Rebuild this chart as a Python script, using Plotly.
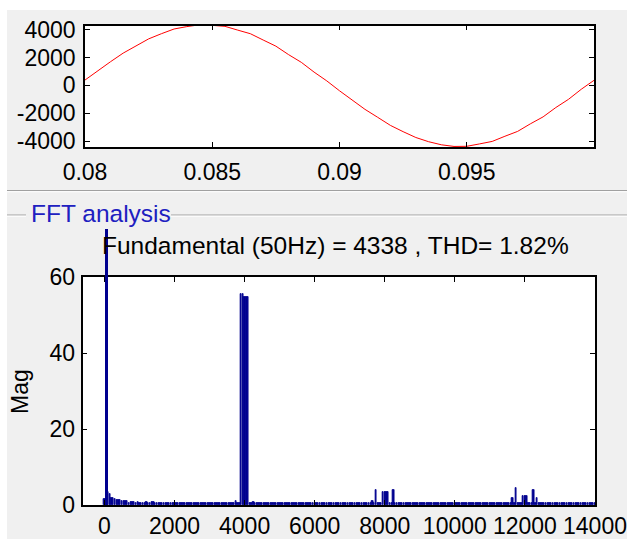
import plotly.graph_objects as go

# ---------------- data ----------------
time_s = [0.0800, 0.0805, 0.0810, 0.0815, 0.0820, 0.0825, 0.0830, 0.0835, 0.0840, 0.0845,
          0.0850, 0.0855, 0.0860, 0.0865, 0.0870, 0.0875, 0.0880, 0.0885, 0.0890, 0.0895,
          0.0900, 0.0905, 0.0910, 0.0915, 0.0920, 0.0925, 0.0930, 0.0935, 0.0940, 0.0945,
          0.0950, 0.0955, 0.0960, 0.0965, 0.0970, 0.0975, 0.0980, 0.0985, 0.0990, 0.0995,
          0.1000]
voltage = [380, 1060, 1690, 2310, 2840, 3330, 3700, 4040, 4210, 4340,
           4300, 4230, 3960, 3700, 3250, 2810, 2200, 1650, 950, 320,
           -390, -1040, -1720, -2290, -2870, -3320, -3740, -4040, -4260, -4380,
           -4370, -4200, -4020, -3650, -3300, -2760, -2260, -1590, -1000, -280,
           360]

time_ticks = [0.08, 0.085, 0.09, 0.095]
time_tick_labels = ["0.08", "0.085", "0.09", "0.095"]
volt_ticks = [-4000, -2000, 0, 2000, 4000]
volt_tick_labels = ["-4000", "-2000", "0", "2000", "4000"]

fund_freq = [50]
fund_mag = [4338]

harm_freq = [0, 100, 150, 200, 250, 300, 350, 400, 450, 500, 550, 600, 650, 700, 750,
             800, 850, 900, 950, 1000, 1050, 1100, 1150, 1200, 1250, 1300, 1350, 1400,
             3750, 3900, 3950, 4000, 4050, 4100, 4250,
             7650, 7750, 7950, 8000, 8050, 8100, 8250,
             11650, 11750, 11950, 12000, 12050, 12250, 12350]
harm_mag = [1.5, 3.5, 3.0, 1.9, 1.9, 1.5, 1.3, 1.3, 1.2, 1.0, 1.0, 1.0, 1.0, 0.6, 0.9,
            0.9, 0.9, 0.6, 0.9, 0.5, 0.5, 0.5, 0.5, 0.9, 0.5, 0.5, 0.9, 0.9,
            1.1, 55.6, 55.6, 54.8, 54.8, 54.8, 0.9,
            1.0, 3.9, 3.3, 3.3, 3.3, 3.3, 3.9,
            1.9, 4.4, 2.4, 2.4, 2.4, 3.9, 1.9]
noise_floor = 0.4          # residual level of all other 50 Hz bins
bin_step = 50
max_freq = 14000

freq_ticks = [0, 2000, 4000, 6000, 8000, 10000, 12000, 14000]
freq_tick_labels = ["0", "2000", "4000", "6000", "8000", "10000", "12000", "14000"]
mag_ticks = [0, 20, 40, 60]

title_text = "Fundamental (50Hz) = 4338 , THD= 1.82%"

# ---------------- build spectrum ----------------
spec = {f: noise_floor for f in range(0, max_freq + 1, bin_step) if f not in fund_freq}
for f, m in zip(harm_freq, harm_mag):
    spec[f] = m
spec_f = sorted(spec)
spec_m = [spec[f] for f in spec_f]

W, H = 627, 539
def px(x):
    return x / W
def py(y):
    return 1 - y / H

FONT = "Liberation Sans, Arial, sans-serif"
NAVY = "#00008F"
GRAY_BG = "#F0F0F0"
TICK_SIZE = 23

fig = go.Figure()

fig.add_trace(go.Scatter(x=time_s, y=voltage, mode="lines",
                         line=dict(color="#FF0000", width=1),
                         xaxis="x", yaxis="y", showlegend=False))

fig.add_trace(go.Bar(x=spec_f, y=spec_m, width=bin_step * 0.8,
                     marker=dict(color=NAVY, line=dict(color=NAVY, width=0.8)),
                     xaxis="x2", yaxis="y2", showlegend=False))

fig.add_trace(go.Bar(x=fund_freq, y=fund_mag, width=bin_step * 1.6,
                     marker=dict(color=NAVY, line=dict(width=0)),
                     xaxis="x3", yaxis="y3", showlegend=False))

axis_common = dict(showline=True, linecolor="black", linewidth=1.5, mirror="ticks",
                   ticks="inside", ticklen=5, tickwidth=1, tickcolor="black",
                   showgrid=False, zeroline=False, automargin=False,
                   tickfont=dict(family=FONT, size=TICK_SIZE, color="black"))

top_xdom = [px(85), px(594)]
top_ydom = [py(147), py(25.5)]
bot_xdom = [px(82.5), px(595)]
bot_ydom = [py(505), py(277)]
fund_ydom = [py(505), py(229)]
bot_xrange = [-627, max_freq]
mag_range = [0, 60]
fund_top = mag_range[1] * (505 - 229) / (505 - 277)

fig.update_layout(
    width=W, height=H,
    margin=dict(l=0, r=0, t=0, b=0, autoexpand=False),
    paper_bgcolor="white",
    plot_bgcolor="rgba(0,0,0,0)",
    bargap=0,
    xaxis=dict(domain=top_xdom, range=[0.08, 0.1], tickvals=time_ticks,
               ticktext=time_tick_labels, anchor="y", ticklabelstandoff=4, **axis_common),
    yaxis=dict(domain=top_ydom, range=[-4420, 4290], tickvals=volt_ticks,
               ticktext=volt_tick_labels, anchor="x", ticklabelstandoff=3, **axis_common),
    xaxis2=dict(domain=bot_xdom, range=bot_xrange, tickvals=freq_ticks,
                ticktext=freq_tick_labels, anchor="y2", **axis_common),
    yaxis2=dict(domain=bot_ydom, range=mag_range, tickvals=mag_ticks,
                anchor="x2", ticklabelstandoff=1, **axis_common),
    xaxis3=dict(domain=bot_xdom, range=bot_xrange, visible=False, anchor="y3"),
    yaxis3=dict(domain=fund_ydom, range=[0, fund_top], visible=False, anchor="x3"),
)

shapes = [
    # grey window area (the white strip at the top/left is outside the window)
    dict(type="rect", xref="paper", yref="paper", x0=px(7), x1=1, y0=0, y1=py(10),
         fillcolor=GRAY_BG, line=dict(width=0), layer="below"),
    # white plot areas
    dict(type="rect", xref="paper", yref="paper", x0=top_xdom[0], x1=top_xdom[1],
         y0=top_ydom[0], y1=top_ydom[1], fillcolor="white", line=dict(width=0), layer="below"),
    dict(type="rect", xref="paper", yref="paper", x0=bot_xdom[0], x1=bot_xdom[1],
         y0=bot_ydom[0], y1=bot_ydom[1], fillcolor="white", line=dict(width=0), layer="below"),
    # separator between the two panels
    dict(type="line", xref="paper", yref="paper", x0=px(7), x1=1, y0=py(190.5), y1=py(190.5),
         line=dict(color="#A0A0A0", width=1)),
    dict(type="line", xref="paper", yref="paper", x0=px(7), x1=1, y0=py(191.8), y1=py(191.8),
         line=dict(color="white", width=1)),
    # FFT analysis panel border
    dict(type="line", xref="paper", yref="paper", x0=px(7), x1=px(26), y0=py(215), y1=py(215),
         line=dict(color="#A0A0A0", width=1)),
    dict(type="line", xref="paper", yref="paper", x0=px(171), x1=1, y0=py(215), y1=py(215),
         line=dict(color="#A0A0A0", width=1)),
    dict(type="line", xref="paper", yref="paper", x0=px(7), x1=px(26), y0=py(216.2), y1=py(216.2),
         line=dict(color="white", width=1)),
    dict(type="line", xref="paper", yref="paper", x0=px(171), x1=1, y0=py(216.2), y1=py(216.2),
         line=dict(color="white", width=1)),
]
fig.update_layout(shapes=shapes)

annotations = [
    dict(text="FFT analysis", xref="paper", yref="paper", x=px(29), y=py(213),
         xanchor="left", yanchor="middle", showarrow=False,
         font=dict(family=FONT, size=24.5, color="#2020C0")),
    dict(text=title_text, xref="paper", yref="paper", x=px(335), y=py(245),
         xanchor="center", yanchor="middle", showarrow=False,
         font=dict(family=FONT, size=24.5, color="black")),
    dict(text="Mag", xref="paper", yref="paper", x=px(20), y=py(392),
         xanchor="center", yanchor="middle", showarrow=False, textangle=-90,
         font=dict(family=FONT, size=23, color="black")),
]
fig.update_layout(annotations=annotations)

fig.write_html(
    "out.html",
    config={"displayModeBar": False},
    post_script="document.body.style.margin='0';document.body.style.overflow='hidden';",
)
